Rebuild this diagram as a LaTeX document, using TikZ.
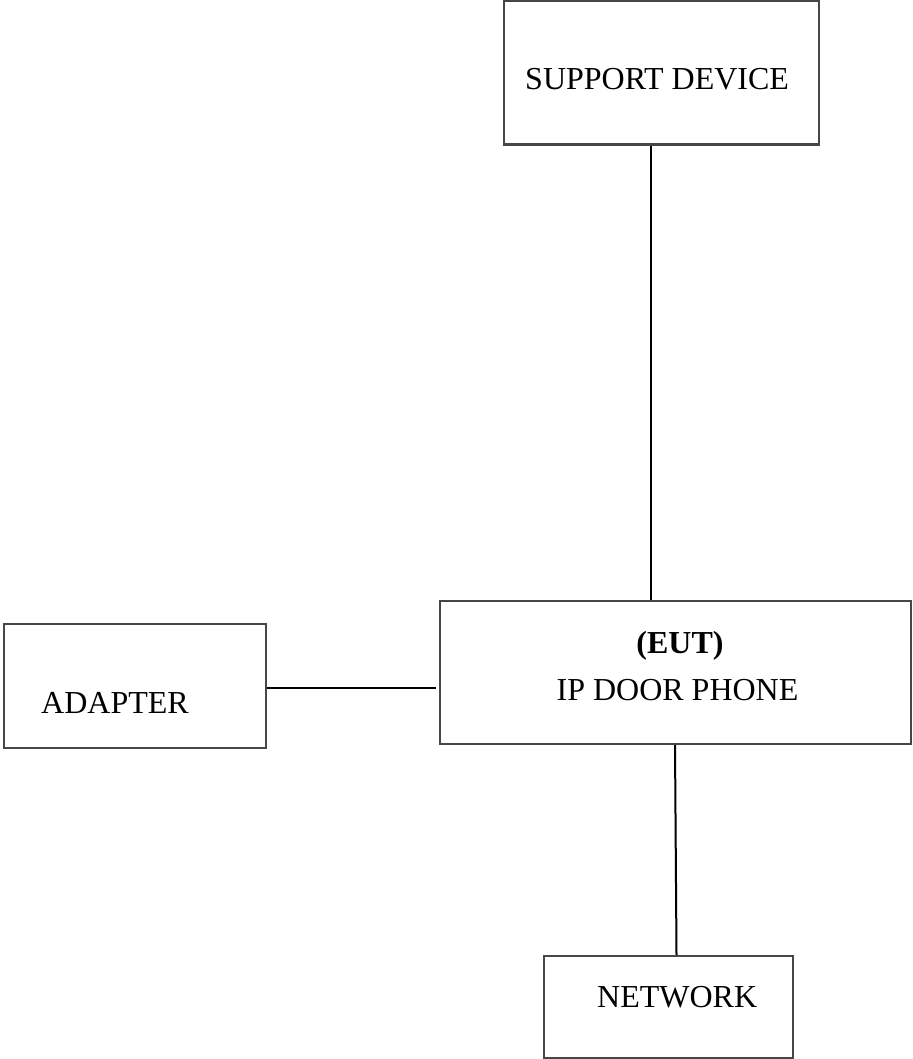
\documentclass[tikz,border=0pt]{standalone}
\usepackage{fontspec}
\setmainfont{Liberation Serif}
\usepackage{xcolor}

\begin{document}
\begin{tikzpicture}[x=1pt,y=-1pt,
    box/.style={draw=black!72,line width=2.2pt,rectangle,inner sep=0pt},
    lbl/.style={inner sep=0pt,font=\fontsize{32}{38}\selectfont},
    wire/.style={black,line width=2pt}]
        \useasboundingbox (0,0) rectangle (912,1059);
        % boxes
        \node[box,minimum width=315,minimum height=143.5] (support) at (661.5,72.75) {};
        \node[box,minimum width=471,minimum height=143] (eut) at (675.5,672.5) {};
        \node[box,minimum width=262,minimum height=124] (adapter) at (135,686) {};
        \node[box,minimum width=249,minimum height=102] (network) at (668.5,1007) {};
        % texts
        \node[lbl,anchor=base west] (supporttxt) at (525,90) {SUPPORT DEVICE};
        \node[lbl,anchor=base,font=\fontsize{32}{38}\selectfont\bfseries] (euttxt) at (680,653) {(EUT)};
        \node[lbl,anchor=base] (phonetxt) at (677.5,700) {IP DOOR PHONE};
        \node[lbl,anchor=base west] (adaptertxt) at (41,713) {ADAPTER};
        \node[lbl,anchor=base west] (networktxt) at (597,1007) {NETWORK};
        % connections
        \draw[wire] ([xshift=-10.5pt]support.south) -- ([xshift=-24.5pt]eut.north);
        \draw[wire] ([yshift=-2pt]adapter.east) -- ([xshift=-3pt,yshift=-15.5pt]eut.west);
        \draw[wire] ([xshift=-0.5pt]eut.south) -- ([xshift=8pt]network.north);
    \end{tikzpicture}
\end{document}
